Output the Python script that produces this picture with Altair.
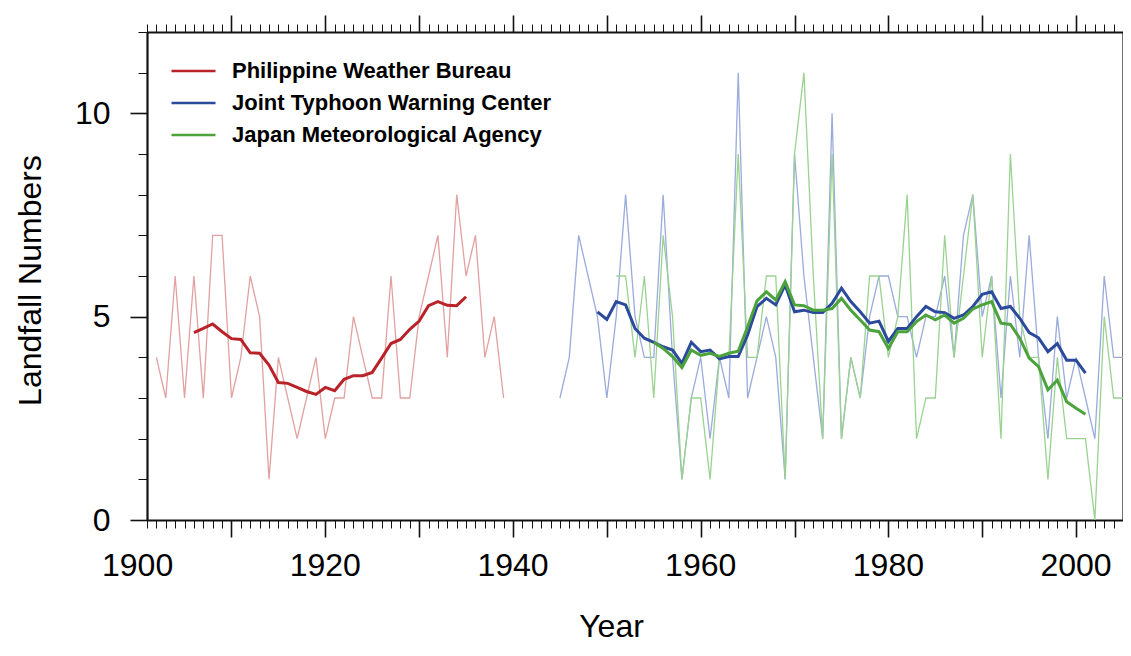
import altair as alt
import pandas as pd

names = ["Philippine Weather Bureau", "Joint Typhoon Warning Center", "Japan Meteorological Agency"]

# ---- Philippine Weather Bureau ----
pwb_years = list(range(1902, 1940))
pwb_raw = [4, 3, 6, 3, 6, 3, 7, 7, 3, 4,
           6, 5, 1, 4, 3, 2, 3, 4, 2, 3,
           3, 5, 4, 3, 3, 6, 3, 3, 5, 6,
           7, 4, 8, 6, 7, 4, 5, 3]
pwb_smooth_years = list(range(1906, 1936))
pwb_smooth = [4.61, 4.71, 4.82, 4.63, 4.46, 4.44, 4.11, 4.10, 3.81, 3.38,
              3.36, 3.26, 3.16, 3.09, 3.26, 3.18, 3.46, 3.55, 3.55, 3.63,
              3.98, 4.34, 4.44, 4.69, 4.89, 5.27, 5.37, 5.28, 5.27, 5.49]

# ---- Joint Typhoon Warning Center ----
jtwc_years = list(range(1945, 2006))
jtwc_raw = [3, 4, 7, 6, 5, 3, 5, 8, 5, 4,
            4, 8, 4, 1, 3, 4, 2, 4, 3, 11,
            3, 4, 5, 4, 1, 9, 6, 4, 2, 10,
            2, 4, 3, 5, 6, 6, 5, 5, 4, 5,
            5, 6, 4, 7, 8, 5, 6, 3, 6, 4,
            7, 4, 2, 5, 3, 4, 3, 2, 6, 4,
            4]
jtwc_smooth_years = list(range(1949, 2002))
jtwc_smooth = [5.12, 4.93, 5.37, 5.29, 4.71, 4.47, 4.37, 4.26, 4.18, 3.85,
               4.37, 4.14, 4.18, 3.96, 4.02, 4.02, 4.55, 5.25, 5.45, 5.29,
               5.78, 5.12, 5.16, 5.10, 5.10, 5.33, 5.70, 5.37, 5.12, 4.84,
               4.89, 4.39, 4.71, 4.71, 5.00, 5.25, 5.12, 5.10, 4.96, 5.04,
               5.25, 5.55, 5.61, 5.20, 5.25, 4.96, 4.61, 4.48, 4.14, 4.34,
               3.93, 3.93, 3.61]

# ---- Japan Meteorological Agency ----
jma_years = list(range(1951, 2006))
jma_raw = [6, 6, 4, 6, 3, 7, 5, 1, 3, 3,
           1, 4, 4, 9, 4, 4, 6, 6, 1, 9,
           11, 6, 2, 9, 2, 4, 3, 6, 6, 4,
           5, 8, 2, 3, 3, 7, 4, 6, 8, 4,
           6, 2, 9, 5, 4, 4, 1, 4, 2, 2,
           2, 0, 5, 3, 3]
jma_smooth_years = list(range(1955, 2002))
jma_smooth = [4.37, 4.22, 4.02, 3.75, 4.18, 4.05, 4.10, 4.02, 4.10, 4.15,
              4.75, 5.39, 5.61, 5.41, 5.86, 5.29, 5.27, 5.16, 5.16, 5.20,
              5.45, 5.16, 4.92, 4.67, 4.63, 4.22, 4.63, 4.63, 4.88, 5.04,
              4.92, 5.04, 4.84, 4.96, 5.19, 5.29, 5.37, 4.84, 4.81, 4.47,
              3.98, 3.77, 3.20, 3.44, 2.91, 2.75, 2.60]

# tick labels of the year axis
xlabel_years = [1900, 1920, 1940, 1960, 1980, 2000]
xlabel_text = ["1900", "1920", "1940", "1960", "1980", "2000"]

thin_colors = ["#e3a0a0", "#9aabdc", "#9bd292"]
thick_colors = ["#b82228", "#2b4a9c", "#4ca33c"]


def frame(series_list):
    parts = []
    for name, yrs, vals in series_list:
        parts.append(pd.DataFrame({"Year": yrs, "Value": vals, "Series": name}))
    return pd.concat(parts, ignore_index=True)


thin_df = frame([(names[0], pwb_years, pwb_raw),
                 (names[1], jtwc_years, jtwc_raw),
                 (names[2], jma_years, jma_raw)])
thick_df = frame([(names[0], pwb_smooth_years, pwb_smooth),
                  (names[1], jtwc_smooth_years, jtwc_smooth),
                  (names[2], jma_smooth_years, jma_smooth)])
lab_df = pd.DataFrame({"Year": xlabel_years, "Label": xlabel_text})

W, H = 976, 488
FONT = "Liberation Sans"
X_SCALE = alt.Scale(domain=[1901, 2005], nice=False, zero=False)
Y_SCALE = alt.Scale(domain=[0, 12], nice=False, zero=False)

decades = list(range(1910, 2001, 10))
years_all = list(range(1901, 2006))
ymajor = [0, 5, 10]
yminor = list(range(0, 13))

INK = "#111111"


def tick_axis(orient, values, size, width, frame_line=False, **kw):
    return alt.Axis(orient=orient, values=values, tickSize=size, tickWidth=width,
                    tickColor=INK, labels=False, domain=frame_line, domainWidth=2.2,
                    domainColor=INK, grid=False, **kw)


thin = alt.Chart(thin_df).mark_line(strokeWidth=1.3).encode(
    x=alt.X("Year:Q", scale=X_SCALE,
            axis=tick_axis("bottom", decades, 17, 1.6, True, title="Year", titleFont=FONT,
                           titleFontSize=32, titleFontWeight="normal", titleColor="black",
                           titleX=464, titleY=116, titleBaseline="alphabetic",
                           titleAlign="center")),
    y=alt.Y("Value:Q", scale=Y_SCALE,
            axis=alt.Axis(orient="left", values=ymajor, tickSize=17, tickWidth=1.6,
                          tickColor=INK, domain=True, domainWidth=2.2, domainColor=INK,
                          grid=False, labelFont=FONT, labelFontSize=32, labelColor="black",
                          labelPadding=20, title="Landfall Numbers", titleFont=FONT,
                          titleFontSize=32, titleFontWeight="normal", titleColor="black",
                          titleX=-117, titleY=248, titleAngle=270,
                          titleBaseline="middle", titleAlign="center")),
    color=alt.Color("Series:N", scale=alt.Scale(domain=names, range=thin_colors), legend=None),
)

thick = alt.Chart(thick_df).mark_line(strokeWidth=3).encode(
    x=alt.X("Year:Q", scale=X_SCALE, axis=tick_axis("bottom", years_all, 8, 1, title=None)),
    y=alt.Y("Value:Q", scale=Y_SCALE, axis=tick_axis("left", yminor, 9, 1, title=None)),
    color=alt.Color("Series:N", scale=alt.Scale(domain=names, range=thick_colors),
                    legend=alt.Legend(orient="none", legendX=23, legendY=23, title=None,
                                      symbolType="stroke", symbolSize=1936,
                                      symbolStrokeWidth=2.5, labelFont=FONT,
                                      labelFontSize=22, labelFontWeight="bold",
                                      labelColor="black", labelOffset=15, padding=0,
                                      rowPadding=0, clipHeight=32, labelLimit=500)),
)

dummy_a = alt.Chart(thin_df).mark_line(opacity=0).encode(
    x=alt.X("Year:Q", scale=X_SCALE, axis=tick_axis("top", decades, 17, 1.6, True, title=None)),
    y=alt.Y("Value:Q", scale=Y_SCALE, axis=tick_axis("right", ymajor, 17, 1.6, True, title=None)),
    detail="Series:N",
)

dummy_b = alt.Chart(thin_df).mark_line(opacity=0).encode(
    x=alt.X("Year:Q", scale=X_SCALE, axis=tick_axis("top", years_all, 8, 1, title=None)),
    y=alt.Y("Value:Q", scale=Y_SCALE, axis=tick_axis("right", yminor, 9, 1, title=None)),
    detail="Series:N",
)

xlabels = alt.Chart(lab_df).mark_text(font=FONT, fontSize=32, color="black",
                                      align="center", baseline="alphabetic").encode(
    x=alt.X("Year:Q", scale=X_SCALE, axis=None),
    y=alt.value(H + 56),
    text="Label:N",
)

chart = alt.layer(thin, thick, dummy_a, dummy_b, xlabels).resolve_scale(
    color="independent"
).resolve_axis(
    x="independent", y="independent"
).properties(
    width=W, height=H,
    autosize=alt.AutoSizeParams(type="none"),
    padding={"left": 139, "top": 24, "right": 0, "bottom": 124},
).configure_view(
    stroke=None
).configure(
    font=FONT, background="white"
)

chart.save("out.html", embed_options={"renderer": "svg", "actions": False})
